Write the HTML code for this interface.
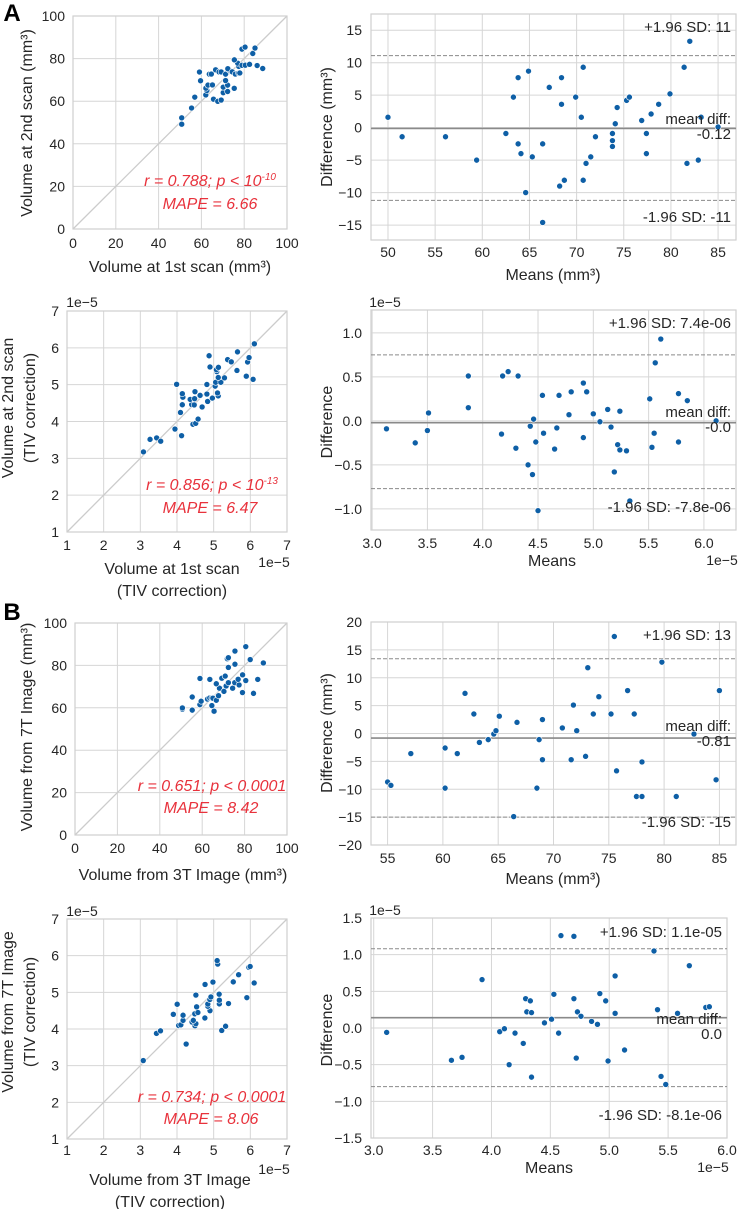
<!DOCTYPE html>
<html><head><meta charset="utf-8"><style>
html,body{margin:0;padding:0;background:#fff;}
svg{display:block;font-family:"Liberation Sans",Arial,sans-serif;}
</style></head><body>
<svg id="fig" width="738" height="1209" viewBox="0 0 738 1209" xmlns="http://www.w3.org/2000/svg"></svg>
<script>
// ---- Data (means and differences; diff = first - second) ----
const aMeans=[50,51.5,56.1,59.4,62.5,63.3,63.8,63.8,64.1,64.6,64.9,65.3,66.4,66.4,67.1,68.2,68.4,68.4,68.7,69.9,70.5,70.7,70.7,71,71.5,72,73.8,73.8,73.8,74.1,74.3,75.3,75.6,76.9,77.4,77.4,77.9,78.7,79.9,81.4,81.7,82,82.9,83.2,85];
const aDiffs=[1.6,-1.4,-1.4,-5,-0.9,4.7,7.7,-2.5,-4,-10,8.7,-4.5,-2.5,-14.6,6.2,-9,7.7,3.6,-8.1,4.7,1.6,9.3,-8.1,-5.5,-4.5,-1.4,-0.9,-2,-2.9,0.6,3.1,4.2,4.7,1.1,-0.9,-4,2.1,3.6,5.2,9.3,-5.5,13.3,-5,1.6,0.1];
const aLimits=[11.1,-0.12,-11.2];
const atMeans=[3.13,3.39,3.5,3.51,3.87,3.87,4.17,4.18,4.23,4.3,4.32,4.41,4.43,4.45,4.46,4.48,4.5,4.54,4.55,4.65,4.67,4.69,4.78,4.8,4.91,4.91,4.94,5,5.06,5.13,5.16,5.19,5.22,5.24,5.24,5.3,5.33,5.51,5.53,5.55,5.56,5.61,5.77,5.77,5.85,6.11];
const atDiffs=[-0.09,-0.25,-0.11,0.09,0.51,0.15,-0.15,0.51,0.56,-0.31,0.51,-0.5,-0.06,-0.61,0.02,-0.24,-1.02,0.29,-0.14,-0.32,-0.08,0.29,0.07,0.33,-0.19,0.43,0.33,0.08,-0.01,0.13,-0.07,-0.58,-0.27,0.11,-0.33,-0.34,-0.91,0.25,-0.3,-0.14,0.66,0.93,0.31,-0.24,0.23,0];
const atLimits=[0.75,-0.02,-0.77];
const bMeans=[55,55.3,57.1,60.2,60.2,61.3,62,62.8,63.3,64.1,64.6,64.8,65.1,66.4,66.7,68.5,68.7,69,69,70.8,71.6,71.8,72.1,72.9,73.1,73.6,74.1,75.2,75.5,75.7,76.7,77.3,77.5,78,78,79.8,81.1,82.7,84.7,85];
const bDiffs=[-8.7,-9.3,-3.6,-2.6,-9.8,-3.6,7.2,3.5,-1.6,-1.1,-0.1,0.5,3.1,-14.9,2,-9.8,-1.1,2.5,-4.7,1,-4.7,5.1,0.5,-4.1,11.8,3.5,6.6,3.5,17.4,-6.7,7.7,3.5,-11.3,-11.3,-5.1,12.8,-11.3,-0.1,-8.3,7.7];
const bLimits=[13.4,-0.81,-15.0];
const btMeans=[3.11,3.66,3.75,3.92,4.07,4.11,4.15,4.2,4.27,4.29,4.3,4.33,4.34,4.34,4.45,4.51,4.53,4.57,4.59,4.7,4.7,4.72,4.73,4.76,4.85,4.9,4.92,4.97,4.99,5.05,5.05,5.13,5.38,5.41,5.44,5.48,5.58,5.68,5.82,5.85];
const btDiffs=[-0.06,-0.44,-0.4,0.66,-0.05,-0.01,-0.5,-0.07,-0.21,0.4,0.22,0.37,0.21,-0.67,0.07,0.12,0.46,-0.07,1.26,1.25,0.4,-0.41,0.22,0.16,0.09,0.05,0.47,0.37,-0.45,0.71,0.2,-0.3,1.05,0.25,-0.66,-0.77,0.2,0.85,0.28,0.29];
const btLimits=[1.08,0.14,-0.8];
// tick labels
const volTicks=[0,20,40,60,80,100];
const tivTicks=[1,2,3,4,5,6,7];
const aXTicks=[50,55,60,65,70,75,80,85];
const aYTicks=[-15,-10,-5,0,5,10,15];
const atXTicks=[3.0,3.5,4.0,4.5,5.0,5.5,6.0];
const atYTicks=[-1.0,-0.5,0.0,0.5,1.0];
const bXTicks=[55,60,65,70,75,80,85];
const bYTicks=[-20,-15,-10,-5,0,5,10,15,20];
const btXTicks=[3.0,3.5,4.0,4.5,5.0,5.5,6.0];
const btYTicks=[-1.5,-1.0,-0.5,0.0,0.5,1.0,1.5];

const NS="http://www.w3.org/2000/svg";
const svg=document.getElementById('fig');
const DOT="#0e5fa6", GRID="#d6d6d6", TXT="#262626", RED="#e8323c";
function el(tag,attrs,parent,text){const e=document.createElementNS(NS,tag);for(const k in attrs)e.setAttribute(k,attrs[k]);if(text!==undefined)e.textContent=text;(parent||svg).appendChild(e);return e;}
function scale(d0,d1,r0,r1){return v=>r0+(v-d0)*(r1-r0)/(d1-d0);}
function fmt(v,dec){const s=v.toFixed(dec);return v<0?'\u2212'+s.slice(1):s;}

function frame(g,x0,y0,x1,y1){const r=el('rect',{x:x0,y:y0,width:x1-x0,height:y1-y0,fill:'none',stroke:'#cfcfcf','stroke-width':1.2},g);

}

function ticksAndGrid(g,xs,ys,xt,yt,box,xdec,ydec,xLabY,yLabX){
  xt.forEach(t=>{const x=xs(t);
    const l=el('line',{x1:x,x2:x,y1:box[1],y2:box[3],stroke:GRID,'stroke-width':1},g);
    
    
    const tx=el('text',{x:x,y:xLabY,'text-anchor':'middle','font-size':14,fill:TXT},g,fmt(t,xdec));
    
    });
  yt.forEach(t=>{const y=ys(t);
    const l=el('line',{x1:box[0],x2:box[2],y1:y,y2:y,stroke:GRID,'stroke-width':1},g);
    
    
    const tx=el('text',{x:yLabX,y:y+5,'text-anchor':'end','font-size':14,fill:TXT},g,fmt(t,ydec));
    
    });
}

function scatterPanel(o){
  const g=el('g',{});
  
  
  const b=o.box;const xs=scale(o.dom[0],o.dom[1],b[0],b[2]);const ys=scale(o.dom[0],o.dom[1],b[3],b[1]);
  ticksAndGrid(g,xs,ys,o.ticks,o.ticks,b,0,0,o.xLabY,b[0]-8);
  const d=el('line',{x1:xs(o.dom[0]),y1:ys(o.dom[0]),x2:xs(o.dom[1]),y2:ys(o.dom[1]),stroke:'#cccccc','stroke-width':1.3},g);
  
  
  frame(g,b[0],b[1],b[2],b[3]);
  o.means.forEach((m,i)=>{const x1=m+o.diffs[i]/2,x2=m-o.diffs[i]/2;
    const c=el('circle',{cx:xs(x1),cy:ys(x2),r:3,fill:DOT,stroke:'#fff','stroke-width':0.6},g);
    
    });
  return g;
}

function baPanel(o){
  const g=el('g',{});
  
  
  const b=o.box;const xs=scale(o.xd[0],o.xd[1],b[0],b[2]);const ys=scale(o.yd[0],o.yd[1],b[3],b[1]);
  ticksAndGrid(g,xs,ys,o.xt,o.yt,b,o.xdec,o.ydec,o.xLabY,b[0]-9);
  frame(g,b[0],b[1],b[2],b[3]);
  const lim=o.lims;
  const u=el('line',{x1:b[0],x2:b[2],y1:ys(lim[0]),y2:ys(lim[0]),stroke:'#8a8a8a','stroke-width':1,'stroke-dasharray':'4,2'},g);
  
  
  const m=el('line',{x1:b[0],x2:b[2],y1:ys(lim[1]),y2:ys(lim[1]),stroke:'#8a8a8a','stroke-width':1.6},g);
  
  
  const lo=el('line',{x1:b[0],x2:b[2],y1:ys(lim[2]),y2:ys(lim[2]),stroke:'#8a8a8a','stroke-width':1,'stroke-dasharray':'4,2'},g);
  
  
  o.means.forEach((mv,i)=>{
    const c=el('circle',{cx:xs(mv),cy:ys(o.diffs[i]),r:3,fill:DOT,stroke:'#fff','stroke-width':0.6},g);
    
    });
  const tx=o.textX;
  [[o.labels[0],o.labY[0],'upper-limit-label'],['mean diff:',o.labY[1],'mean-diff-label'],[o.labels[1],o.labY[2],'mean-diff-value'],[o.labels[2],o.labY[3],'lower-limit-label']].forEach(a=>{
    const t=el('text',{x:tx,y:a[1],'text-anchor':'end','font-size':15,fill:TXT},g,a[0]);
    
    });
  return g;
}

function txt(x,y,s,attrs,name){const t=el('text',Object.assign({x:x,y:y,'text-anchor':'middle','font-size':16,fill:TXT},attrs||{}),svg,s);
  
  return t;}
function ytitle(cx,cy,s,name,fs){const t=el('text',{x:0,y:0,transform:`translate(${cx},${cy}) rotate(-90)`,'text-anchor':'middle','font-size':fs||16,fill:TXT},svg,s);
  
  return t;}
function stat(cx,y,r,p,exp,name){const t=el('text',{x:cx,y:y,'text-anchor':'middle','font-size':16,'font-style':'italic',fill:RED},svg);
  
  
  el('tspan',{},t,'r = '+r+'; p < '+p);
  if(exp){el('tspan',{dy:-6,'font-size':10},t,exp);}
  return t;}

// ---- Panel labels ----
txt(12,21,'A',{'font-size':24,'font-weight':'bold',fill:'#000'},'panel-label-a');
txt(12,620,'B',{'font-size':24,'font-weight':'bold',fill:'#000'},'panel-label-b');

// ---- A1 ----
scatterPanel({name:'scatter-a-raw',box:[73,16,287,229],dom:[0,100],ticks:volTicks,means:aMeans,diffs:aDiffs,xLabY:248});
ytitle(32,123,'Volume at 2nd scan (mm³)','y-axis-title-a1');
txt(180,272,'Volume at 1st scan (mm³)',{},'x-axis-title-a1');
stat(210,186,'0.788','10','-10','stat-r-a1');
txt(210,209,'MAPE = 6.66',{'font-style':'italic',fill:RED},'stat-mape-a1');

// ---- A2 ----
baPanel({name:'ba-a-raw',box:[371,14,736,240],xd:[48.2,86.9],yd:[-17.3,17.5],xt:aXTicks,yt:aYTicks,xdec:0,ydec:0,xLabY:257,means:aMeans,diffs:aDiffs,lims:aLimits,textX:731,labels:['+1.96 SD: 11','-0.12','-1.96 SD: -11'],labY:[32,124,139,222]});
ytitle(332,127,'Difference (mm³)','y-axis-title-a2');
txt(553,280,'Means (mm³)',{},'x-axis-title-a2');

// ---- A3 ----
scatterPanel({name:'scatter-a-tiv',box:[67,311,287,532],dom:[1,7],ticks:tivTicks,means:atMeans,diffs:atDiffs,xLabY:550});
txt(82,307,'1e\u22125',{'font-size':14},'y-offset-a3');
txt(274,567,'1e\u22125',{'font-size':14},'x-offset-a3');
ytitle(13,408,'Volume at 2nd scan','y-axis-title-a3');
ytitle(35,408,'(TIV correction)','y-axis-title-a3-sub');
txt(172,574,'Volume at 1st scan',{},'x-axis-title-a3');
txt(172,596,'(TIV correction)',{},'x-axis-title-a3-sub');
stat(212,490,'0.856','10','-13','stat-r-a3');
txt(210,513,'MAPE = 6.47',{'font-style':'italic',fill:RED},'stat-mape-a3');

// ---- A4 ----
baPanel({name:'ba-a-tiv',box:[371,310,736,530],xd:[2.99,6.29],yd:[-1.24,1.26],xt:atXTicks,yt:atYTicks,xdec:1,ydec:1,xLabY:548,means:atMeans,diffs:atDiffs,lims:atLimits,textX:731,labels:['+1.96 SD: 7.4e-06','-0.0','-1.96 SD: -7.8e-06'],labY:[328,417,432,512]});
txt(385,307,'1e\u22125',{'font-size':14},'y-offset-a4');
txt(722,565,'1e\u22125',{'font-size':14},'x-offset-a4');
ytitle(332,422,'Difference','y-axis-title-a4');
txt(552,566,'Means',{},'x-axis-title-a4');

// ---- B1 ----
scatterPanel({name:'scatter-b-raw',box:[75,623,287,835],dom:[0,100],ticks:volTicks,means:bMeans,diffs:bDiffs,xLabY:853});
ytitle(32,727,'Volume from 7T Image (mm³)','y-axis-title-b1');
txt(183,880,'Volume from 3T Image (mm³)',{},'x-axis-title-b1');
stat(212,791,'0.651','0.0001','','stat-r-b1');
txt(211,813,'MAPE = 8.42',{'font-style':'italic',fill:RED},'stat-mape-b1');

// ---- B2 ----
baPanel({name:'ba-b-raw',box:[371,622,736,845],xd:[53.5,86.5],yd:[-20,20],xt:bXTicks,yt:bYTicks,xdec:0,ydec:0,xLabY:863,means:bMeans,diffs:bDiffs,lims:bLimits,textX:731,labels:['+1.96 SD: 13','-0.81','-1.96 SD: -15'],labY:[640,731,746,827]});
ytitle(332,733,'Difference (mm³)','y-axis-title-b2');
txt(553,884,'Means (mm³)',{},'x-axis-title-b2');

// ---- B3 ----
scatterPanel({name:'scatter-b-tiv',box:[67,919,287,1139],dom:[1,7],ticks:tivTicks,means:btMeans,diffs:btDiffs,xLabY:1155});
txt(82,916,'1e\u22125',{'font-size':14},'y-offset-b3');
txt(274,1174,'1e\u22125',{'font-size':14},'x-offset-b3');
ytitle(13,1012,'Volume from 7T Image','y-axis-title-b3');
ytitle(35,1012,'(TIV correction)','y-axis-title-b3-sub');
txt(170,1185,'Volume from 3T Image',{},'x-axis-title-b3');
txt(170,1207,'(TIV correction)',{},'x-axis-title-b3-sub');
stat(212,1102,'0.734','0.0001','','stat-r-b3');
txt(211,1124,'MAPE = 8.06',{'font-style':'italic',fill:RED},'stat-mape-b3');

// ---- B4 ----
baPanel({name:'ba-b-tiv',box:[371,918,727,1138],xd:[2.977,6.0],yd:[-1.5,1.5],xt:btXTicks,yt:btYTicks,xdec:1,ydec:1,xLabY:1155,means:btMeans,diffs:btDiffs,lims:btLimits,textX:722,labels:['+1.96 SD: 1.1e-05','0.0','-1.96 SD: -8.1e-06'],labY:[937,1024,1039,1120]});
txt(385,915,'1e\u22125',{'font-size':14},'y-offset-b4');
txt(713,1172,'1e\u22125',{'font-size':14},'x-offset-b4');
ytitle(332,1030,'Difference','y-axis-title-b4');
txt(549,1173,'Means',{},'x-axis-title-b4');
</script>
</body></html>
